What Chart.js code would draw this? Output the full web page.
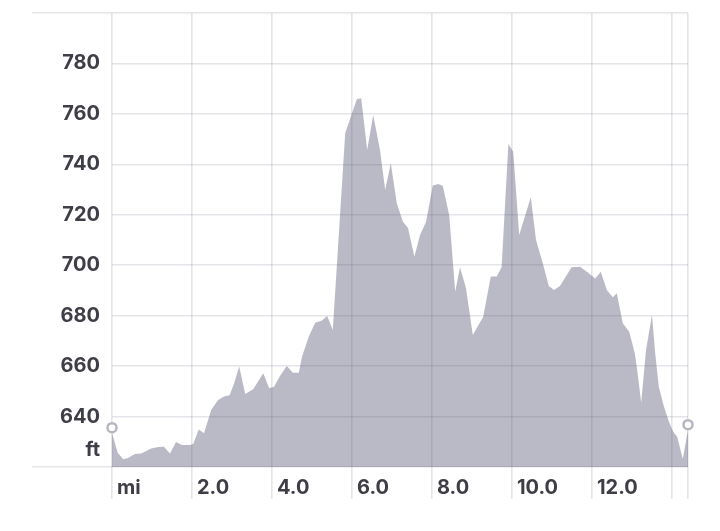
<!DOCTYPE html>
<html>
<head>
<meta charset="utf-8">
<script src="https://cdn.jsdelivr.net/npm/chart.js@4/dist/chart.umd.min.js"></script>
<style>
  html, body { margin: 0; padding: 0; background: #fff; }
  #wrap { width: 720px; height: 531px; }
</style>
</head>
<body>
<div id="wrap"><canvas id="elev"></canvas></div>
<script>
// distance (mi) and elevation (ft)
const miles = [0.00, 0.14, 0.28, 0.40, 0.57, 0.73, 0.98, 1.15, 1.30, 1.45,
  1.60, 1.75, 1.95, 2.03, 2.17, 2.30, 2.48, 2.65, 2.80, 2.94,
  3.05, 3.18, 3.33, 3.53, 3.78, 3.93, 4.05, 4.20, 4.37, 4.52,
  4.67, 4.75, 4.92, 5.08, 5.24, 5.38, 5.52, 5.83, 6.12, 6.23,
  6.38, 6.53, 6.70, 6.83, 6.97, 7.12, 7.27, 7.40, 7.56, 7.70,
  7.85, 8.02, 8.16, 8.27, 8.43, 8.58, 8.70, 8.85, 9.02, 9.28,
  9.47, 9.62, 9.74, 9.91, 10.03, 10.18, 10.47, 10.60, 10.77, 10.92,
  11.05, 11.20, 11.49, 11.70, 11.87, 12.08, 12.22, 12.37, 12.52, 12.62,
  12.77, 12.93, 13.07, 13.13, 13.23, 13.35, 13.50, 13.58, 13.67, 13.80,
  13.92, 14.03, 14.13, 14.27, 14.40];
const elevation = [633.5, 625.7, 623.1, 623.6, 625.2, 625.4, 627.3, 627.9, 628.0, 625.4,
  629.9, 628.7, 628.7, 629.1, 634.9, 633.4, 642.6, 646.6, 648.0, 648.4,
  653.0, 659.8, 648.9, 650.8, 657.2, 651.2, 651.8, 656.1, 660.0, 657.4,
  657.4, 663.7, 671.7, 677.2, 678.0, 679.9, 674.3, 752.3, 765.8, 766.2,
  745.7, 759.6, 745.7, 729.8, 740.4, 724.6, 717.3, 714.8, 703.4, 712.0,
  717.1, 731.6, 732.2, 731.4, 719.9, 689.5, 699.2, 690.9, 672.3, 679.6,
  695.5, 695.5, 699.2, 748.1, 745.0, 712.0, 726.9, 710.0, 700.8, 691.8,
  690.2, 691.8, 699.2, 699.4, 697.4, 694.7, 697.4, 690.2, 687.3, 688.9,
  677.0, 673.6, 665.1, 658.5, 645.5, 666.4, 680.3, 665.1, 651.8, 643.9,
  638.0, 634.0, 632.0, 623.2, 634.7];

// start / end markers
const markerMiles = [0, 14.4];
const markerElev = [635.6, 636.8];

// axis ticks
const xTicks = [0, 2, 4, 6, 8, 10, 12, 14, 14.4];
const yTicks = [620, 640, 660, 680, 700, 720, 740, 760, 780, 800];

const gridColor = 'rgba(70, 68, 100, 0.14)';
const textColor = '#3e3e46';

const profile = miles.map((m, i) => ({ x: m, y: elevation[i] }));
const markers = markerMiles.map((m, i) => ({ x: m, y: markerElev[i] }));

new Chart(document.getElementById('elev'), {
  type: 'line',
  data: {
    datasets: [
      {
        data: markers,
        showLine: false,
        pointRadius: 4.5,
        pointBorderWidth: 2.5,
        pointBackgroundColor: '#ffffff',
        pointBorderColor: '#b6b5c2',
        clip: false,
        order: 0
      },
      {
        data: profile,
        borderWidth: 0,
        pointRadius: 0,
        tension: 0,
        fill: 'start',
        backgroundColor: 'rgba(73, 71, 105, 0.38)',
        order: 1
      }
    ]
  },
  options: {
    responsive: true,
    maintainAspectRatio: false,
    animation: false,
    layout: { padding: { top: 13, right: 32, bottom: 0, left: 0 } },
    plugins: { legend: { display: false }, tooltip: { enabled: false } },
    scales: {
      x: {
        type: 'linear',
        min: 0,
        max: 14.4,
        afterBuildTicks: s => { s.ticks = xTicks.map(v => ({ value: v })); },
        afterFit: s => { s.height = 64; },
        border: { display: false },
        grid: { color: gridColor, tickColor: gridColor, tickLength: 32, lineWidth: 1.6, tickWidth: 1.6 },
        ticks: {
          autoSkip: false,
          maxRotation: 0,
          align: 'start',
          labelOffset: 5,
          padding: -23,
          color: textColor,
          font: { family: 'Inter', size: 20, weight: '700' },
          callback: v => {
            if (v === 0) return 'mi';
            if (v >= 14) return '';
            return v.toFixed(1);
          }
        }
      },
      y: {
        min: 620,
        max: 800,
        afterBuildTicks: s => { s.ticks = yTicks.map(v => ({ value: v })); },
        afterFit: s => { s.width = 112; },
        border: { display: false },
        grid: {
          color: gridColor,
          lineWidth: 1.6,
          tickWidth: 1.6,
          tickLength: 80,
          // only the top and bottom lines run out under the labels
          tickColor: c => (c.tick && (c.tick.value === 620 || c.tick.value === 800)) ? gridColor : 'rgba(0,0,0,0)'
        },
        ticks: {
          autoSkip: false,
          padding: -68,
          color: textColor,
          font: { family: 'Inter', size: 20, weight: '700', lineHeight: 1.75 },
          callback: v => {
            // the unit sits just above the bottom line
            if (v === 620) return ['ft', ''];
            if (v === 800) return '';
            return String(v);
          }
        }
      }
    }
  }
});
</script>
</body>
</html>
